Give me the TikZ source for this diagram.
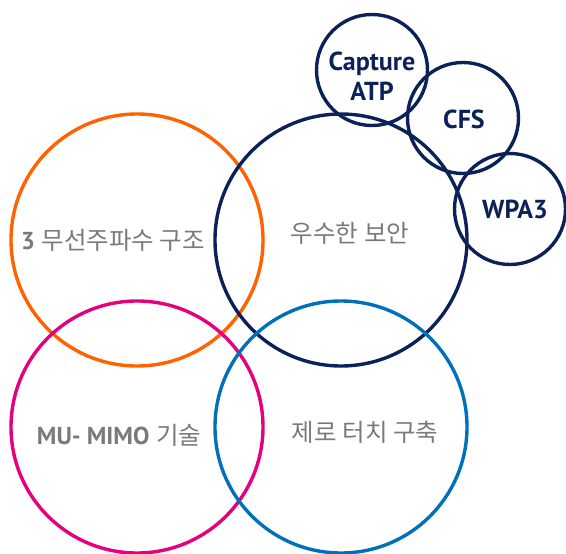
\documentclass[tikz,border=0pt]{standalone}
\usepackage{fontspec}
\setmainfont{PT Sans}
\newfontfamily\kr{Noto Sans CJK KR}
\definecolor{navyc}{HTML}{0B2157}
\definecolor{orangec}{HTML}{FF6200}
\definecolor{pinkc}{HTML}{E5007D}
\definecolor{bluec}{HTML}{0070BA}
\definecolor{grayt}{HTML}{7A7A7A}
\begin{document}
\begin{tikzpicture}[x=1pt,y=-1pt,
  ring/.style={circle,draw,line width=3.4pt,inner sep=0pt},
  bigring/.style={ring,minimum size=252pt},
  smallring/.style={ring,minimum size=111pt},
  tag/.style={inner sep=0pt,font=\fontsize{26}{30}\selectfont\bfseries,text=navyc,align=center},
  krtext/.style={inner sep=0pt,text=grayt,font=\fontsize{24.5}{28}\selectfont}]
\useasboundingbox (0,0) rectangle (566,554);
\node[bigring,draw=orangec] (orange) at (137,240) {};
\node[bigring,draw=navyc] (security) at (341,240) {};
\node[bigring,draw=pinkc] (pink) at (137,427) {};
\node[bigring,draw=bluec] (blue) at (341,427) {};
\node[smallring,draw=navyc] (capture) at (372,70) {};
\node[smallring,draw=navyc] (cfs) at (463,118) {};
\node[smallring,draw=navyc] (wpa) at (510,209) {};
\node[tag,align=center] (capturet) at (372,76) {Capture\\ATP};
\node[tag] (cfst) at (464,119) {CFS};
\node[tag] (wpat) at (515,209) {WPA3};
\node[krtext] (t1) at (113,240) {\textbf{3} {\kr 무선주파수 구조}};
\node[krtext] (t2) at (350,233) {\kr 우수한 보안};
\node[krtext] (t3) at (119,435) {\textbf{MU- MIMO} {\kr 기술}};
\node[krtext] (t4) at (365,432) {\kr 제로 터치 구축};
\end{tikzpicture}
\end{document}
